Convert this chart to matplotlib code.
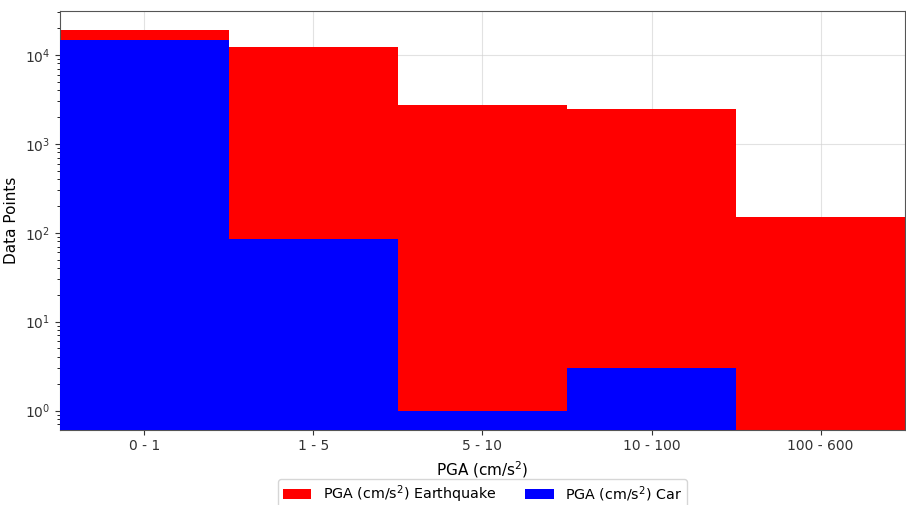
import matplotlib
matplotlib.use("Agg")
import matplotlib.pyplot as plt
import numpy as np

categories = ["0 - 1", "1 - 5", "5 - 10", "10 - 100", "100 - 600"]
earthquake = [19100, 12200, 2750, 2470, 150]
car = [14700, 86, 1, 3, 0]

fig = plt.figure(figsize=(9.06, 5.05), dpi=100)
ax = fig.add_axes([0.066, 0.149, 0.933, 0.829])
x = np.arange(len(categories))
ax.bar(x, earthquake, width=1.0, color="red", label="PGA (cm/s$^2$) Earthquake", zorder=2)
car_plot = [v if v > 0 else np.nan for v in car]
ax.bar(x, car_plot, width=1.0, color="blue", label="PGA (cm/s$^2$) Car", zorder=3)
ax.set_yscale("log")
ax.set_ylim(0.61, 31000)
ax.set_xlim(-0.5, 4.5)
ax.set_xticks(x)
ax.set_xticklabels(categories)
ax.grid(True, color="#d0d0d0", linewidth=0.8, zorder=0)
for gl in ax.get_xgridlines() + ax.get_ygridlines():
    gl.set_zorder(4)
    gl.set_alpha(0.6)
ax.set_xlabel("PGA (cm/s$^2$)", fontsize=11)
ax.set_ylabel("Data Points", fontsize=11)
ax.tick_params(labelsize=10, colors="#333333")
for s in ax.spines.values():
    s.set_color("#555555")
ax.legend(loc="upper center", bbox_to_anchor=(0.5, -0.117), borderaxespad=0,
          ncol=2, fontsize=10.3, frameon=True, edgecolor="#cccccc",
          handlelength=2.0, columnspacing=2.0, borderpad=0.35)
fig.savefig("out.png", dpi=100)
